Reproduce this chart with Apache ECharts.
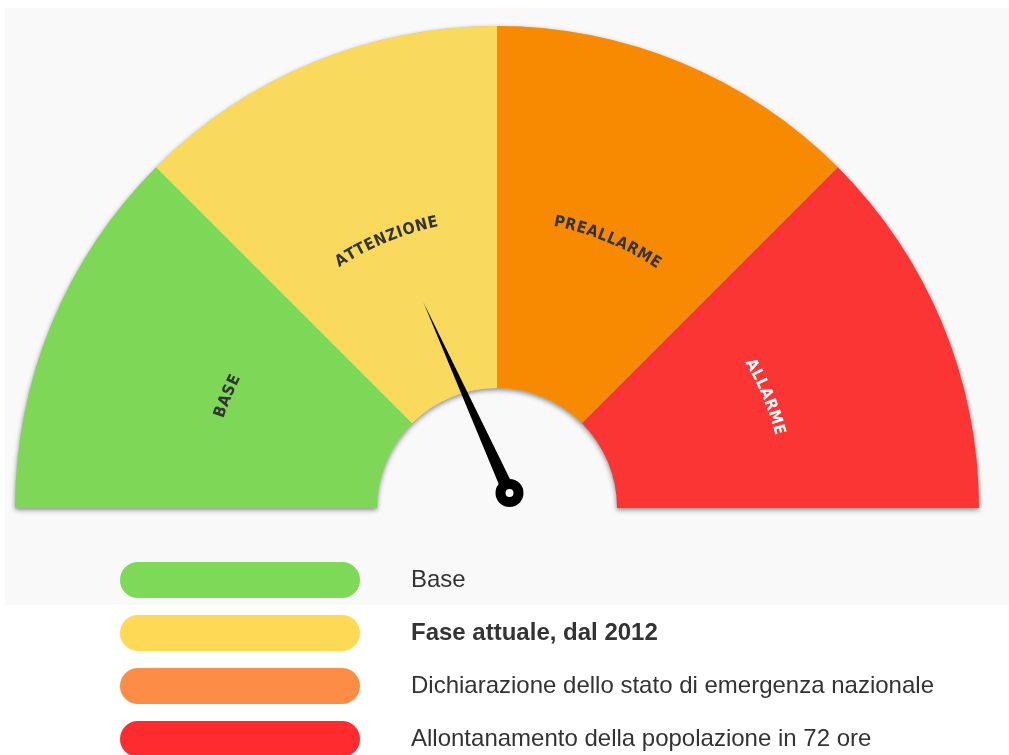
<!DOCTYPE html>
<html>
<head>
<meta charset="utf-8">
<script src="https://cdn.jsdelivr.net/npm/echarts@6/dist/echarts.min.js"></script>
<style>
html,body{margin:0;padding:0;background:#fff;}
#chart{width:1009px;height:755px;}
</style>
</head>
<body>
<div id="chart"></div>
<script>
// ---- data ----
const phases = ['BASE', 'ATTENZIONE', 'PREALLARME', 'ALLARME'];
const phaseValues = [1, 1, 1, 1];
const phaseColors = ['#7ed756', '#f9da5c', '#f78a00', '#fb3434'];
const labelColors = ['#333333', '#333333', '#333333', '#ffffff'];
const legendTexts = [
  'Base',
  'Fase attuale, dal 2012',
  'Dichiarazione dello stato di emergenza nazionale',
  'Allontanamento della popolazione in 72 ore'
];
const legendColors = ['#7dd957', '#fdd955', '#fd8c47', '#ff2b2e'];
const currentLevel = 1.46; // needle position on 0..4 scale

// ---- geometry ----
const cx = 497, cy = 508, rOuter = 482, rInner = 120, rText = 292;
const needleCenter = [509.5, 493];

const chart = echarts.init(document.getElementById('chart'), null, {renderer: 'canvas'});

const mctx = document.createElement('canvas').getContext('2d');
function curvedText(text, midDeg, r, font, color, spacing) {
  mctx.font = font;
  const chars = Array.from(text);
  const widths = chars.map(ch => mctx.measureText(ch).width);
  const total = widths.reduce((a, b) => a + b, 0) + spacing * (chars.length - 1);
  const start = midDeg * Math.PI / 180 + total / 2 / r;
  let acc = 0;
  const els = [];
  chars.forEach((ch, i) => {
    const th = start - (acc + widths[i] / 2) / r;
    acc += widths[i] + spacing;
    els.push({
      type: 'text',
      silent: true,
      z: 100,
      x: cx + r * Math.cos(th),
      y: cy - r * Math.sin(th),
      rotation: th - Math.PI / 2,
      style: {text: ch, font: font, fill: color, align: 'center', verticalAlign: 'middle'}
    });
  });
  return els;
}

const totalVal = phaseValues.reduce((a, b) => a + b, 0);
let cum = 0;
let textEls = [];
phases.forEach((p, i) => {
  const mid = 180 - (cum + phaseValues[i] / 2) / totalVal * 180;
  cum += phaseValues[i];
  textEls = textEls.concat(curvedText(p, mid, rText,
    "bold 16px 'DejaVu Sans Condensed', 'DejaVu Sans', sans-serif", labelColors[i], 0.8));
});

const option = {
  backgroundColor: '#ffffff',
  animation: false,
  graphic: [
    {type: 'rect', silent: true, z: -10, shape: {x: 5, y: 8, width: 1004, height: 597}, style: {fill: '#f9f9f9'}}
  ].concat(textEls),
  legend: {
    orient: 'vertical',
    left: 120,
    top: 562,
    height: 220,
    padding: 0,
    itemWidth: 240,
    itemHeight: 36,
    itemGap: 17,
    selectedMode: false,
    icon: 'path://M18,0L222,0A18,18,0,0,1,222,36L18,36A18,18,0,0,1,18,0Z',
    data: phases.map((p, i) => ({
      name: p,
      itemStyle: {color: legendColors[i]},
      textStyle: i === 1 ? {fontWeight: 'bold'} : {fontWeight: 'normal'}
    })),
    formatter: n => legendTexts[phases.indexOf(n)],
    textStyle: {fontSize: 24, color: '#333', fontFamily: "'Liberation Sans', Arial, sans-serif", padding: [0, 0, 0, 46]}
  },
  series: [
    {
      type: 'pie',
      silent: true,
      z: 1,
      center: [cx, cy],
      radius: [rInner, rOuter],
      startAngle: 180,
      endAngle: 0,
      label: {show: false},
      labelLine: {show: false},
      itemStyle: {color: '#c8c8c8', shadowBlur: 5, shadowOffsetY: 2, shadowColor: 'rgba(0,0,0,0.45)'},
      data: [{value: 1, name: '_bg'}]
    },
    {
      type: 'pie',
      z: 2,
      center: [cx, cy],
      radius: [rInner, rOuter],
      startAngle: 180,
      endAngle: 0,
      clockwise: true,
      label: {show: false},
      labelLine: {show: false},
      emphasis: {disabled: true},
      itemStyle: {borderWidth: 0},
      data: phases.map((p, i) => ({name: p, value: phaseValues[i], itemStyle: {color: phaseColors[i]}}))
    },
    {
      type: 'gauge',
      z: 5,
      center: needleCenter,
      radius: 209,
      startAngle: 180,
      endAngle: 0,
      min: 0,
      max: 4,
      axisLine: {show: false},
      splitLine: {show: false},
      axisTick: {show: false},
      axisLabel: {show: false},
      title: {show: false},
      detail: {show: false},
      pointer: {
        show: true,
        icon: 'path://M5,0L10,100L0,100Z',
        length: 209,
        width: 13,
        offsetCenter: [0, 0],
        itemStyle: {color: '#000'}
      },
      anchor: {
        show: true,
        showAbove: true,
        size: 18,
        itemStyle: {color: '#fafafa', borderColor: '#000', borderWidth: 10}
      },
      data: [{value: currentLevel}]
    }
  ]
};
chart.setOption(option);
</script>
</body>
</html>
